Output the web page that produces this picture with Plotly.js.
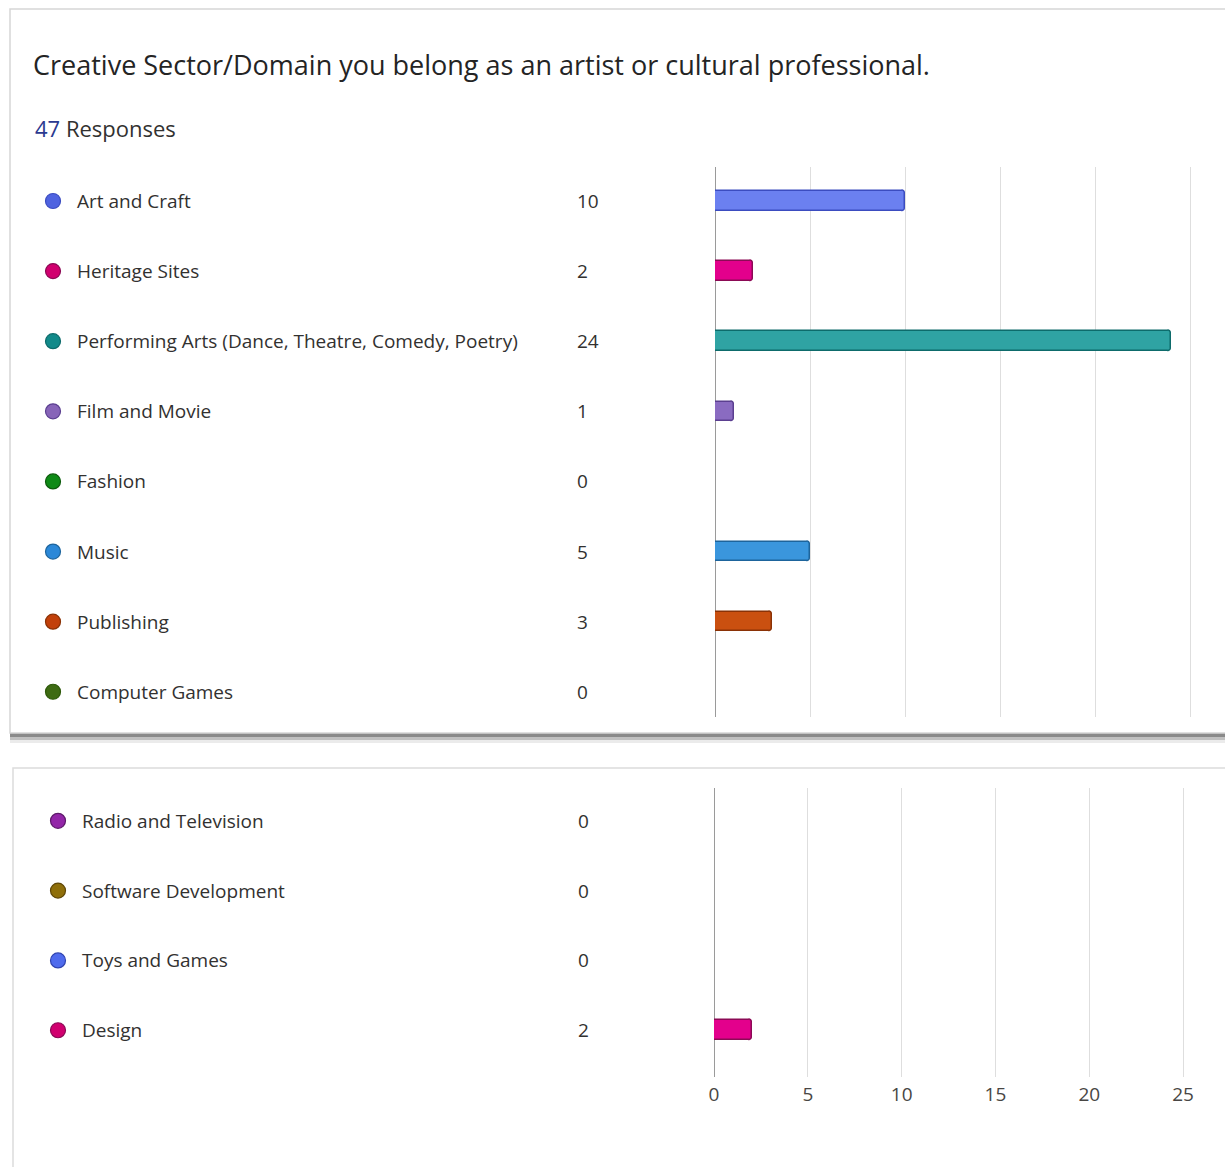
<!DOCTYPE html>
<html>
<head>
<meta charset="utf-8">
<script src="https://cdn.plot.ly/plotly-3.0.1.min.js"></script>
<style>html,body{margin:0;padding:0;background:#fff;}#chart{width:1225px;height:1167px;}</style>
</head>
<body>
<div id="chart"></div>
<script>
// ---- Data ----
const titleText = "Creative Sector/Domain you belong as an artist or cultural professional.";
const responseCount = 47;
const categoriesTop = ["Art and Craft", "Heritage Sites", "Performing Arts (Dance, Theatre, Comedy, Poetry)", "Film and Movie", "Fashion", "Music", "Publishing", "Computer Games"];
const valuesTop = [10, 2, 24, 1, 0, 5, 3, 0];
const categoriesBottom = ["Radio and Television", "Software Development", "Toys and Games", "Design"];
const valuesBottom = [0, 0, 0, 2];
const xTickValues = [0, 5, 10, 15, 20, 25];

// ---- Styles ----
const fillTop = ["#6b80f0", "#e3008c", "#2fa3a3", "#8a6bc1", "#13a10e", "#3a96dd", "#ca5010", "#498205"];
const lineTop = ["#3b4cc0", "#8b0a55", "#0d6b6b", "#5b3f90", "#0b5a0b", "#1d649c", "#8a3206", "#2e5a0a"];
const dotTop = ["#4f63e0", "#d1006f", "#128a8a", "#8764b8", "#0e8a16", "#2b88d8", "#c2400a", "#3e6b13"];
const fillBottom = ["#9b2fae", "#a27c12", "#4f6bed", "#e3008c"];
const lineBottom = ["#5e1a6b", "#5f4708", "#2f43b0", "#8b0a55"];
const dotBottom = ["#9326a8", "#8f6f0a", "#4f6bed", "#d1006f"];

const W = 1225, H = 1167;
const FONT = "Open Sans, 'Noto Sans', sans-serif";
const px = x => x / W;
const py = y => 1 - y / H;

const traces = [
  {type: "bar", orientation: "h", x: valuesTop, y: categoriesTop, xaxis: "x", yaxis: "y",
   width: 0.28, marker: {color: fillTop, line: {color: lineTop, width: 1.5}, cornerradius: 3},
   hoverinfo: "x+y", showlegend: false},
  {type: "bar", orientation: "h", x: valuesBottom, y: categoriesBottom, xaxis: "x2", yaxis: "y2",
   width: 0.28, marker: {color: fillBottom, line: {color: lineBottom, width: 1.5}, cornerradius: 3},
   hoverinfo: "x+y", showlegend: false},
  {type: "scatter", mode: "markers", x: categoriesTop.map(() => 53), y: categoriesTop, xaxis: "x3", yaxis: "y",
   marker: {size: 15, color: dotTop, line: {color: lineTop, width: 1.2}}, hoverinfo: "skip", showlegend: false, cliponaxis: false},
  {type: "scatter", mode: "markers", x: categoriesBottom.map(() => 58), y: categoriesBottom, xaxis: "x4", yaxis: "y2",
   marker: {size: 15, color: dotBottom, line: {color: lineBottom, width: 1.2}}, hoverinfo: "skip", showlegend: false, cliponaxis: false}
];

const annotations = [];
annotations.push({xref: "paper", yref: "paper", x: px(31), y: py(65), xanchor: "left", yanchor: "middle",
  text: titleText, showarrow: false, font: {family: FONT, size: 27, color: "#242424"}});
annotations.push({xref: "paper", yref: "paper", x: px(33), y: py(128), xanchor: "left", yanchor: "middle",
  text: "<span style='color:#2b3990'>" + responseCount + "</span> Responses", showarrow: false,
  font: {family: FONT, size: 22, color: "#323130"}});
categoriesTop.forEach((c, i) => {
  annotations.push({xref: "x3", yref: "y", x: 75, y: c, xanchor: "left", yanchor: "middle", text: c,
    showarrow: false, font: {family: FONT, size: 19, color: "#323130"}});
  annotations.push({xref: "x3", yref: "y", x: 575, y: c, xanchor: "left", yanchor: "middle", text: String(valuesTop[i]),
    showarrow: false, font: {family: FONT, size: 19, color: "#323130"}});
});
categoriesBottom.forEach((c, i) => {
  annotations.push({xref: "x4", yref: "y2", x: 80, y: c, xanchor: "left", yanchor: "middle", text: c,
    showarrow: false, font: {family: FONT, size: 19, color: "#323130"}});
  annotations.push({xref: "x4", yref: "y2", x: 576, y: c, xanchor: "left", yanchor: "middle", text: String(valuesBottom[i]),
    showarrow: false, font: {family: FONT, size: 19, color: "#323130"}});
});

const shapes = [
  // top card shadow
  {type: "rect", xref: "paper", yref: "paper", x0: px(10), x1: 1.01, y0: py(743), y1: py(733), fillcolor: "rgba(0,0,0,0.08)", line: {width: 0}, layer: "below"},
  {type: "rect", xref: "paper", yref: "paper", x0: px(10), x1: 1.01, y0: py(740), y1: py(733), fillcolor: "rgba(0,0,0,0.18)", line: {width: 0}, layer: "below"},
  {type: "rect", xref: "paper", yref: "paper", x0: px(10), x1: 1.01, y0: py(737), y1: py(733), fillcolor: "rgba(0,0,0,0.28)", line: {width: 0}, layer: "below"},
  // top card
  {type: "rect", xref: "paper", yref: "paper", x0: px(10), x1: 1.01, y0: py(733), y1: py(9), fillcolor: "#ffffff", line: {color: "#d6d6d6", width: 1.5}, layer: "below"},
  // bottom card
  {type: "rect", xref: "paper", yref: "paper", x0: px(13), x1: 1.01, y0: -0.01, y1: py(768), fillcolor: "#ffffff", line: {color: "#dcdcdc", width: 1.5}, layer: "below"}
];

const axBase = {fixedrange: true, showline: false, ticks: ""};
const layout = {
  width: W, height: H,
  margin: {l: 0, r: 0, t: 0, b: 0},
  paper_bgcolor: "#ffffff", plot_bgcolor: "rgba(0,0,0,0)",
  showlegend: false,
  bargap: 0,
  xaxis: Object.assign({}, axBase, {domain: [px(715), px(1192)], anchor: "y", range: [0, 25.1], tickvals: xTickValues,
    showgrid: true, gridcolor: "#dedede", gridwidth: 1, zeroline: true, zerolinecolor: "#9a9a9a", zerolinewidth: 1,
    showticklabels: false}),
  yaxis: Object.assign({}, axBase, {domain: [py(717), py(167)], anchor: "x", type: "category",
    categoryorder: "array", categoryarray: categoriesTop, range: [7.36, -0.485],
    showgrid: false, zeroline: false, showticklabels: false}),
  xaxis3: {domain: [0, 1], anchor: "y", range: [0, W], visible: false, fixedrange: true},
  xaxis2: Object.assign({}, axBase, {domain: [px(714), px(1185)], anchor: "y2", range: [0, 25.1], tickvals: xTickValues,
    showgrid: true, gridcolor: "#dedede", gridwidth: 1, zeroline: true, zerolinecolor: "#9a9a9a", zerolinewidth: 1,
    showticklabels: true, ticklabelstandoff: 4, tickfont: {family: FONT, size: 19, color: "#484644"}}),
  yaxis2: Object.assign({}, axBase, {domain: [py(1077), py(788)], anchor: "x2", type: "category",
    categoryorder: "array", categoryarray: categoriesBottom, range: [3.67, -0.47],
    showgrid: false, zeroline: false, showticklabels: false}),
  xaxis4: {domain: [0, 1], anchor: "y2", range: [0, W], visible: false, fixedrange: true},
  annotations: annotations,
  shapes: shapes,
  hovermode: "closest"
};

Plotly.newPlot("chart", traces, layout, {displayModeBar: false});
</script>
</body>
</html>
